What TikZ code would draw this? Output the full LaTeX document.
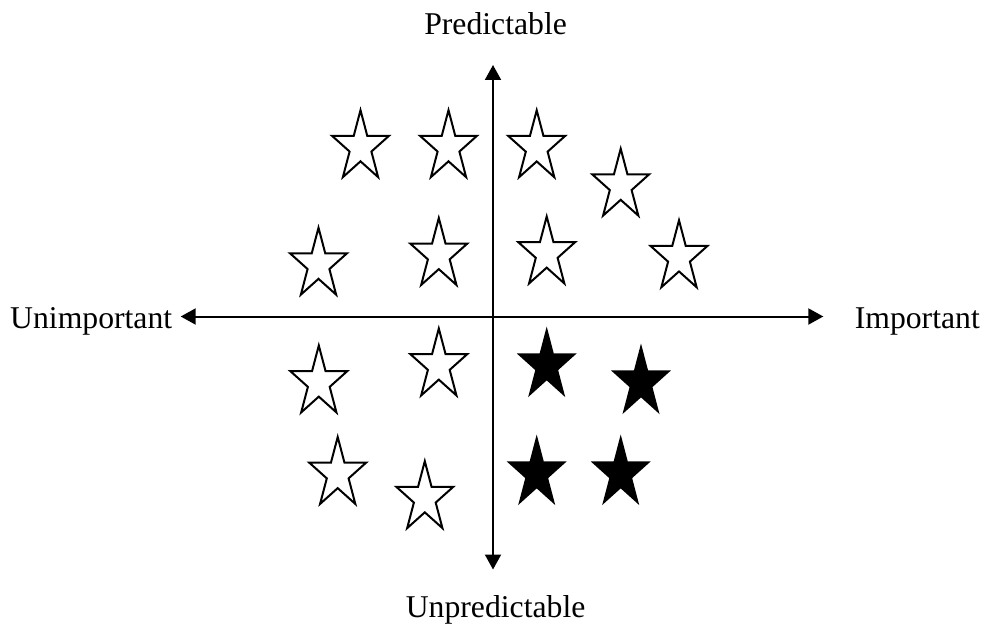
\documentclass[tikz,border=0pt]{standalone}
\usepackage{fontspec}
\setmainfont{Liberation Serif}
\usetikzlibrary{arrows.meta}
\tikzset{
  axis/.style={line width=2pt, -{Triangle[length=15pt,width=16pt]}},
  lbl/.style={inner sep=0pt, font=\fontsize{31.7}{38}\selectfont},
  ostar/.pic={\draw[line width=2pt, line join=miter, fill=white]
     (90:30 and 37) -- (126:11.46 and 14.13) -- (162:30 and 37) -- (198:11.46 and 14.13)
     -- (234:30 and 37) -- (270:11.46 and 14.13) -- (306:30 and 37) -- (342:11.46 and 14.13)
     -- (18:30 and 37) -- (54:11.46 and 14.13) -- cycle;},
  fstar/.pic={\fill[black]
     (90:31.5 and 39) -- (126:12.03 and 14.9) -- (162:31.5 and 39) -- (198:12.03 and 14.9)
     -- (234:31.5 and 39) -- (270:12.03 and 14.9) -- (306:31.5 and 39) -- (342:12.03 and 14.9)
     -- (18:31.5 and 39) -- (54:12.03 and 14.9) -- cycle;}
}
\begin{document}
\begin{tikzpicture}[x=1pt,y=1pt]
\useasboundingbox (0,0) rectangle (984,-631);
% axis ends
\coordinate (ytop) at (493,-65);
\coordinate (ybot) at (493,-569.5);
\coordinate (xleft) at (180.7,-316.5);
\coordinate (xright) at (823.3,-316.5);
\coordinate (origin) at (493,-316.5);
\draw[axis] (origin) -- (ytop);
\draw[axis] (origin) -- (ybot);
\draw[axis] (origin) -- (xleft);
\draw[axis] (origin) -- (xright);
% labels
\node[lbl, anchor=base] (pred) at (495.6,-35) {Predictable};
\node[lbl, anchor=base] (unpred) at (495.6,-617) {Unpredictable};
\node[lbl, anchor=base west] (unimp) at (10,-328.5) {Unimportant};
\node[lbl, anchor=base east] (imp) at (980,-328.5) {Important};
% outline stars
\pic (sA) at (360.5,-147.2) {ostar};
\pic (sB) at (448.5,-147.2) {ostar};
\pic (sC) at (318.5,-264.7) {ostar};
\pic (sD) at (438.8,-255) {ostar};
\pic (sE) at (536.7,-147.3) {ostar};
\pic (sF) at (620.7,-185.7) {ostar};
\pic (sG) at (546.7,-253.5) {ostar};
\pic (sH) at (679,-257.3) {ostar};
\pic (sI) at (318.8,-382.5) {ostar};
\pic (sJ) at (438.8,-365.5) {ostar};
\pic (sK) at (337.7,-474) {ostar};
\pic (sL) at (424.8,-498.2) {ostar};
% filled stars
\pic (sM) at (546.7,-365.5) {fstar};
\pic (sN) at (641,-382.5) {fstar};
\pic (sO) at (536.7,-473.5) {fstar};
\pic (sP) at (620.7,-473.5) {fstar};
\end{tikzpicture}
\end{document}
